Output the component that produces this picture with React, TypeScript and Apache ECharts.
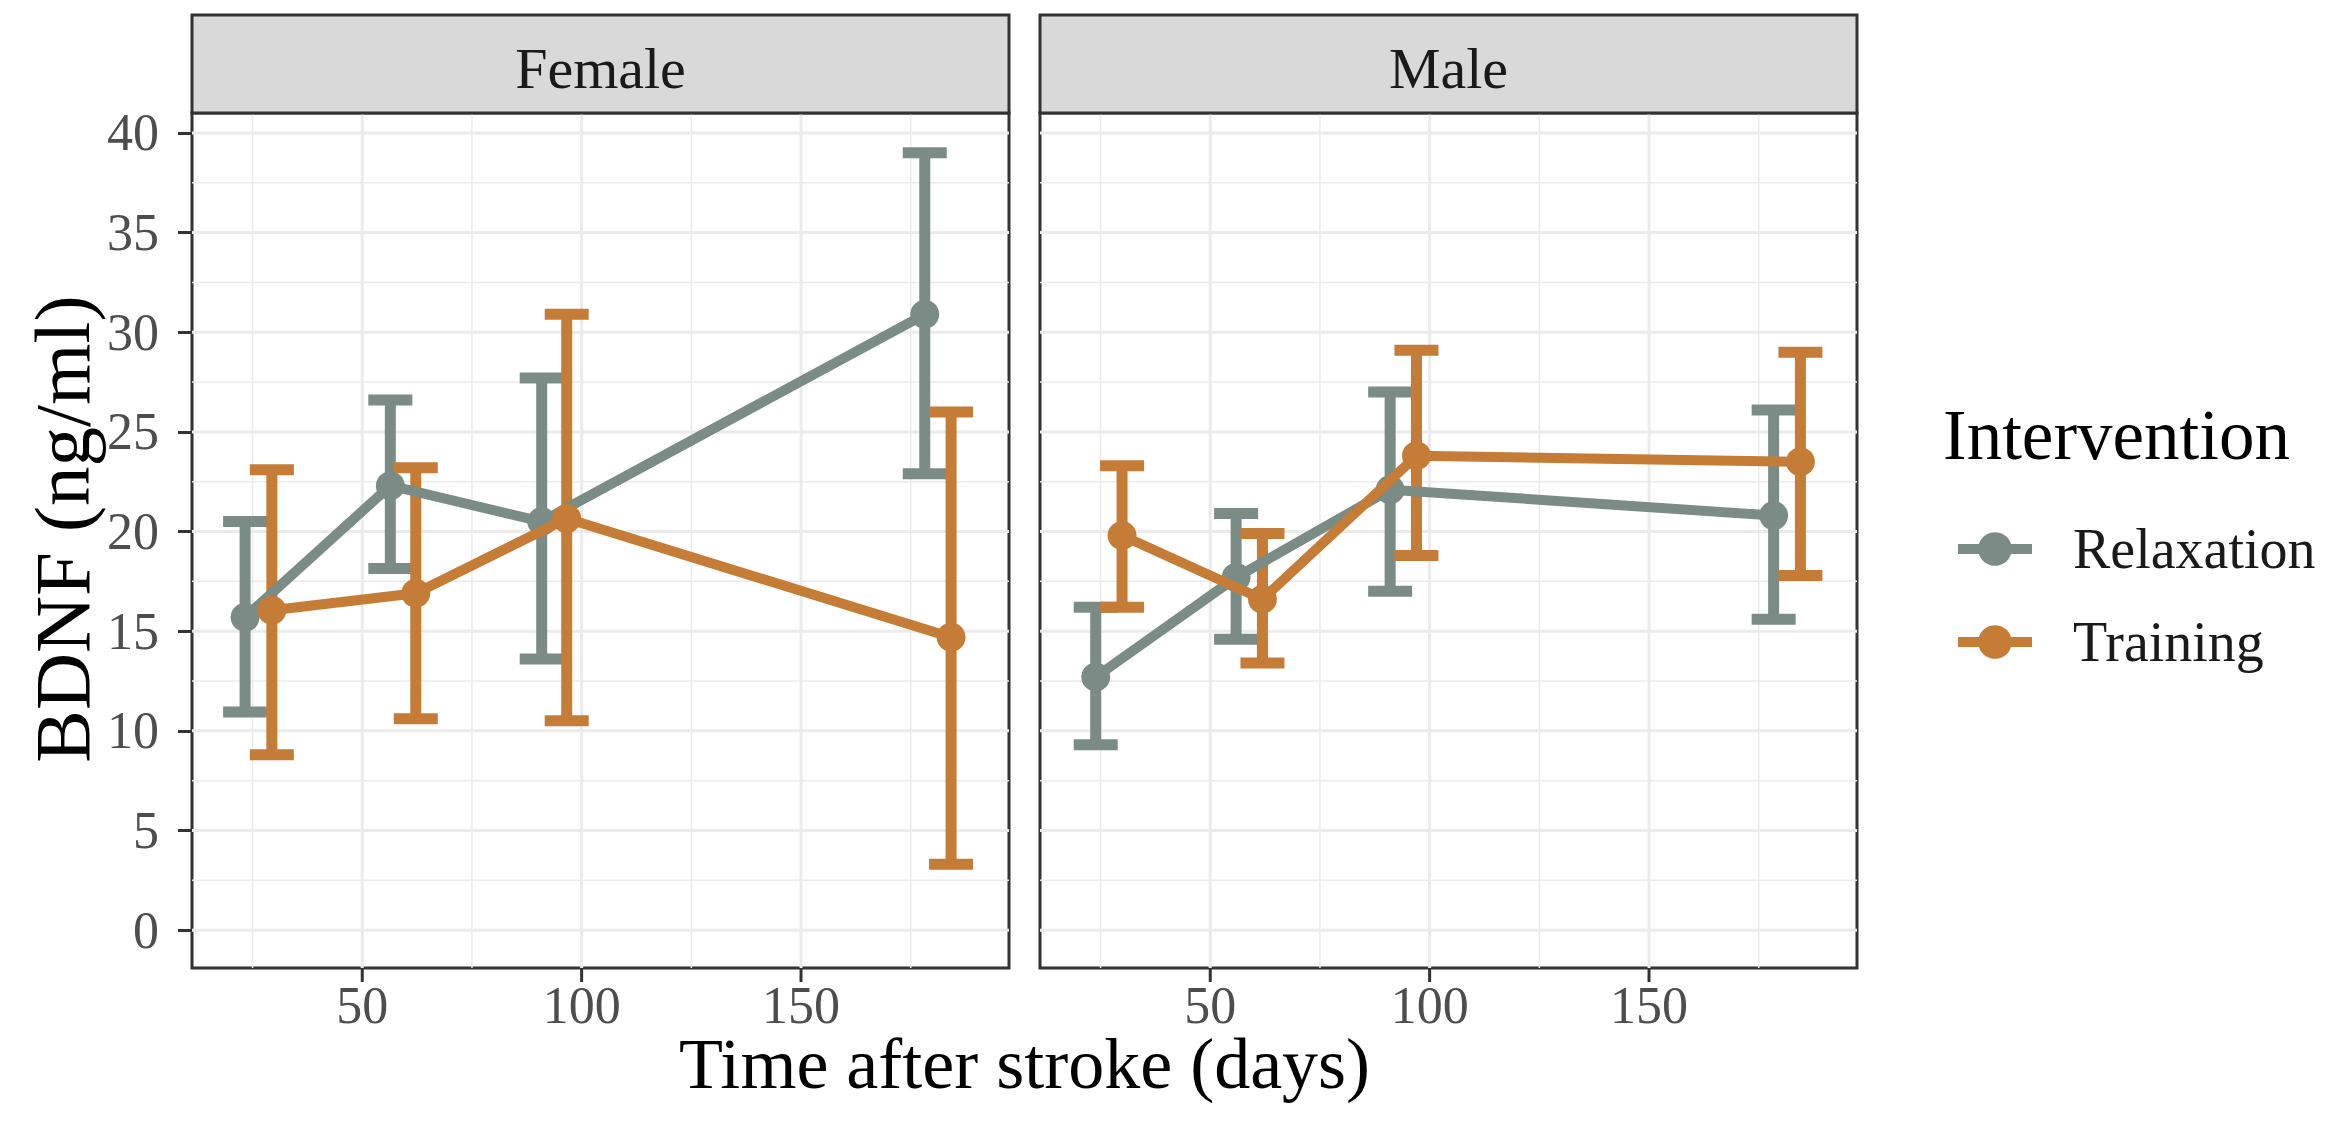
import React, { useEffect, useRef } from "react";
import * as echarts from "echarts";

const FONT = "'Liberation Serif', 'Times New Roman', Times, serif";
const RELAX_COLOR = "#7A8C85";
const TRAIN_COLOR = "#C57C36";

const panels = ["Female", "Male"];
const groups = ["Relaxation", "Training"];

// Female
const femaleRelaxTime = [23.3, 56.4, 90.9, 178.2];
const femaleRelaxMean = [15.7, 22.3, 20.5, 30.9];
const femaleRelaxLow = [10.95, 18.15, 13.6, 22.9];
const femaleRelaxHigh = [20.5, 26.6, 27.7, 39.0];

const femaleTrainTime = [29.4, 62.2, 96.6, 184.2];
const femaleTrainMean = [16.05, 16.9, 20.65, 14.7];
const femaleTrainLow = [8.8, 10.6, 10.5, 3.3];
const femaleTrainHigh = [23.1, 23.2, 30.9, 26.0];

// Male
const maleRelaxTime = [23.9, 55.9, 91.0, 178.4];
const maleRelaxMean = [12.7, 17.7, 22.1, 20.8];
const maleRelaxLow = [9.3, 14.6, 17.0, 15.6];
const maleRelaxHigh = [16.2, 20.9, 27.0, 26.1];

const maleTrainTime = [29.9, 61.9, 97.0, 184.5];
const maleTrainMean = [19.8, 16.6, 23.8, 23.5];
const maleTrainLow = [16.2, 13.4, 18.8, 17.8];
const maleTrainHigh = [23.3, 19.9, 29.1, 29.0];

const xTicks = [50, 100, 150];
const xMinorGrid = [25, 75, 125, 175];
const yTicks = [0, 5, 10, 15, 20, 25, 30, 35, 40];
const yMinorGrid = [2.5, 7.5, 12.5, 17.5, 22.5, 27.5, 32.5, 37.5];
const xRange = [11.2, 197.4];
const yRange = [-1.9, 41.0];

const xTitle = "Time after stroke (days)";
const yTitle = "BDNF (ng/ml)";
const legendTitle = "Intervention";

const zip2 = (a: number[], b: number[]) => a.map((v, i) => [v, b[i]]);
const zip3 = (a: number[], b: number[], c: number[]) => a.map((v, i) => [v, b[i], c[i]]);

const panelData = [
  {
    relax: { t: femaleRelaxTime, m: femaleRelaxMean, lo: femaleRelaxLow, hi: femaleRelaxHigh },
    train: { t: femaleTrainTime, m: femaleTrainMean, lo: femaleTrainLow, hi: femaleTrainHigh },
  },
  {
    relax: { t: maleRelaxTime, m: maleRelaxMean, lo: maleRelaxLow, hi: maleRelaxHigh },
    train: { t: maleTrainTime, m: maleTrainMean, lo: maleTrainLow, hi: maleTrainHigh },
  },
];

// layout (pixels)
const GRID_TOP = 113;
const GRID_H = 855;
const GRID_W = 817;
const GRID_LEFTS = [192, 1040];
const STRIP_TOP = 15;
const TICK_LEN = 14;

function errorBarSeries(name: string, color: string, idx: number, data: number[][]) {
  return {
    type: "custom",
    name,
    xAxisIndex: idx,
    yAxisIndex: idx,
    z: 3,
    silent: true,
    clip: false,
    data,
    encode: { x: 0, y: [1, 2] },
    renderItem: (params: any, api: any) => {
      const x = api.value(0);
      const lo = api.value(1);
      const hi = api.value(2);
      const pLo = api.coord([x, lo]);
      const pHi = api.coord([x, hi]);
      const hw = 22;
      const st = { stroke: color, lineWidth: 11, fill: null };
      return {
        type: "group",
        children: [
          { type: "line", shape: { x1: pLo[0], y1: pLo[1], x2: pHi[0], y2: pHi[1] }, style: st },
          { type: "line", shape: { x1: pLo[0] - hw, y1: pLo[1], x2: pLo[0] + hw, y2: pLo[1] }, style: st },
          { type: "line", shape: { x1: pHi[0] - hw, y1: pHi[1], x2: pHi[0] + hw, y2: pHi[1] }, style: st },
        ],
      };
    },
  };
}

function gridLineSeries(idx: number) {
  const data: number[][] = [];
  xTicks.forEach((v) => data.push([v, 0, 1]));
  xMinorGrid.forEach((v) => data.push([v, 0, 0]));
  yTicks.forEach((v) => data.push([v, 1, 1]));
  yMinorGrid.forEach((v) => data.push([v, 1, 0]));
  return {
    type: "custom",
    xAxisIndex: idx,
    yAxisIndex: idx,
    z: 1,
    silent: true,
    clip: true,
    data,
    encode: { x: 0 },
    renderItem: (params: any, api: any) => {
      const v = api.value(0);
      const kind = api.value(1);
      const major = api.value(2);
      const cs = params.coordSys;
      const style = { stroke: "#EBEBEB", lineWidth: major ? 3 : 1.5 };
      if (kind === 0) {
        const p = api.coord([v, 0]);
        return { type: "line", shape: { x1: p[0], y1: cs.y, x2: p[0], y2: cs.y + cs.height }, style };
      }
      const p = api.coord([100, v]);
      return { type: "line", shape: { x1: cs.x, y1: p[1], x2: cs.x + cs.width, y2: p[1] }, style };
    },
  };
}

// x-axis tick marks below each panel, placed through the x scale
function xTickSeries(idx: number) {
  return {
    type: "custom",
    xAxisIndex: idx,
    yAxisIndex: idx,
    z: 6,
    silent: true,
    clip: false,
    data: xTicks.map((v) => [v, yRange[0]]),
    renderItem: (params: any, api: any) => {
      const cs = params.coordSys;
      const p = api.coord([api.value(0), api.value(1)]);
      const yb = cs.y + cs.height;
      return {
        type: "line",
        shape: { x1: p[0], y1: yb, x2: p[0], y2: yb + TICK_LEN },
        style: { stroke: "#333333", lineWidth: 3 },
      };
    },
  };
}

export default function App() {
  const ref = useRef<HTMLDivElement>(null);

  useEffect(() => {
    if (!ref.current) return;
    const chart = echarts.init(ref.current, undefined, { renderer: "svg" });

    const grids = GRID_LEFTS.map((left) => ({
      left,
      top: GRID_TOP,
      width: GRID_W,
      height: GRID_H,
      show: true,
      backgroundColor: "#FFFFFF",
      borderColor: "#333333",
      borderWidth: 3,
      containLabel: false,
    }));

    const xAxes = GRID_LEFTS.map((_, i) => ({
      type: "value",
      gridIndex: i,
      position: "bottom",
      min: xRange[0],
      max: xRange[1],
      axisLine: { show: false, onZero: false },
      splitLine: { show: false },
      axisTick: { show: false },
      axisLabel: {
        show: true,
        customValues: xTicks,
        margin: 17,
        fontSize: 52,
        lineHeight: 40,
        fontFamily: FONT,
        color: "#4D4D4D",
      },
    }));

    const yAxes = GRID_LEFTS.map((_, i) => ({
      type: "value",
      gridIndex: i,
      position: "left",
      min: yRange[0],
      max: yRange[1],
      axisLine: { show: false, onZero: false },
      splitLine: { show: false },
      axisTick: {
        show: i === 0,
        customValues: yTicks,
        length: TICK_LEN,
        lineStyle: { color: "#333333", width: 3 },
      },
      axisLabel: {
        show: i === 0,
        customValues: yTicks,
        margin: 33,
        fontSize: 52,
        fontFamily: FONT,
        color: "#4D4D4D",
      },
    }));

    const series: any[] = [];
    panelData.forEach((p, i) => {
      series.push({
        type: "line",
        name: groups[0],
        xAxisIndex: i,
        yAxisIndex: i,
        data: zip2(p.relax.t, p.relax.m),
        symbol: "circle",
        symbolSize: 29,
        lineStyle: { width: 10, color: RELAX_COLOR },
        itemStyle: { color: RELAX_COLOR },
        z: 4,
        clip: false,
        silent: true,
      });
      series.push({
        type: "line",
        name: groups[1],
        xAxisIndex: i,
        yAxisIndex: i,
        data: zip2(p.train.t, p.train.m),
        symbol: "circle",
        symbolSize: 29,
        lineStyle: { width: 10, color: TRAIN_COLOR },
        itemStyle: { color: TRAIN_COLOR },
        z: 5,
        clip: false,
        silent: true,
      });
    });
    panelData.forEach((p, i) => {
      series.push(errorBarSeries(groups[0], RELAX_COLOR, i, zip3(p.relax.t, p.relax.lo, p.relax.hi)));
      series.push(errorBarSeries(groups[1], TRAIN_COLOR, i, zip3(p.train.t, p.train.lo, p.train.hi)));
      series.push(gridLineSeries(i));
      series.push(xTickSeries(i));
    });

    const graphics: any[] = [];
    panels.forEach((name, i) => {
      const left = GRID_LEFTS[i];
      graphics.push({
        type: "rect",
        shape: { x: left, y: STRIP_TOP, width: GRID_W, height: GRID_TOP - STRIP_TOP },
        style: { fill: "#D9D9D9", stroke: "#333333", lineWidth: 3 },
        z: 10,
      });
      graphics.push({
        type: "text",
        x: left + GRID_W / 2,
        y: 68,
        style: {
          text: name,
          fontSize: 58,
          fontFamily: FONT,
          fill: "#1A1A1A",
          align: "center",
          verticalAlign: "middle",
          textAlign: "center",
          textVerticalAlign: "middle",
        },
        z: 11,
      });
    });
    graphics.push({
      type: "text",
      x: (GRID_LEFTS[0] + GRID_LEFTS[1] + GRID_W) / 2,
      y: 1064,
      style: {
        text: xTitle,
        fontSize: 72,
        fontFamily: FONT,
        fill: "#000000",
        align: "center",
        verticalAlign: "middle",
        textAlign: "center",
        textVerticalAlign: "middle",
      },
    });
    graphics.push({
      type: "text",
      x: 62,
      y: 529,
      rotation: Math.PI / 2,
      style: {
        text: yTitle,
        fontSize: 79,
        fontFamily: FONT,
        fill: "#000000",
        align: "center",
        verticalAlign: "middle",
        textAlign: "center",
        textVerticalAlign: "middle",
      },
    });
    graphics.push({
      type: "text",
      x: 1943,
      y: 435,
      style: {
        text: legendTitle,
        fontSize: 71,
        fontFamily: FONT,
        fill: "#000000",
        align: "left",
        verticalAlign: "middle",
        textAlign: "left",
        textVerticalAlign: "middle",
      },
    });

    chart.setOption({
      animation: false,
      backgroundColor: "#FFFFFF",
      grid: grids,
      xAxis: xAxes,
      yAxis: yAxes,
      legend: {
        show: true,
        data: groups,
        orient: "vertical",
        left: 1948,
        top: 516,
        itemWidth: 74,
        itemHeight: 42,
        itemGap: 37,
        selectedMode: false,
        lineStyle: { width: 10 },
        textStyle: {
          fontSize: 56,
          fontFamily: FONT,
          color: "#1A1A1A",
          padding: [0, 0, 0, 36],
        },
      },
      graphic: graphics,
      series,
    });

    return () => {
      chart.dispose();
    };
  }, []);

  return (
    <div
      ref={ref}
      style={{ position: "fixed", left: 0, top: 0, width: 2327, height: 1131, background: "#fff" }}
    />
  );
}
